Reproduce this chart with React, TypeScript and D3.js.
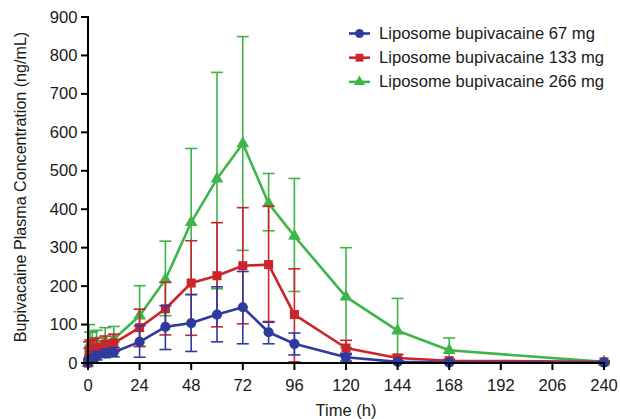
import React from "react";
import * as d3 from "d3";

const times = [0, 0.5, 1, 2, 4, 8, 12, 24, 36, 48, 60, 72, 84, 96, 120, 144, 168, 240];

const blueMean = [0, 5, 8, 12, 18, 25, 28, 55, 94, 104, 126, 145, 80, 50, 15, 3, 1, 1];
const blueLo = [0, 0, 2, 4, 8, 14, 16, 15, 35, 30, 55, 50, 50, 21, 5, 0, 0, 0];
const blueHi = [0, 12, 16, 22, 30, 36, 40, 97, 149, 178, 198, 238, 106, 78, 25, 6, 3, 2];

const redMean = [0, 30, 35, 38, 40, 48, 52, 92, 141, 208, 227, 253, 256, 126, 39, 13, 6, 3];
const redLo = [0, 10, 15, 18, 20, 28, 30, 43, 73, 72, 94, 102, 108, 3, 22, 5, 2, 1];
const redHi = [0, 55, 60, 60, 65, 70, 75, 140, 210, 318, 365, 404, 408, 245, 59, 22, 10, 5];

const greenMean = [0, 45, 50, 52, 55, 58, 62, 123, 217, 366, 479, 571, 415, 330, 172, 84, 33, 3];
const greenLo = [0, 5, 20, 25, 28, 30, 35, 43, 123, 178, 193, 293, 344, 186, 40, 5, 5, 1];
const greenHi = [0, 100, 80, 82, 85, 92, 95, 201, 317, 558, 756, 849, 493, 480, 300, 168, 65, 6];

const xTickValues = [0, 24, 48, 72, 96, 120, 144, 168, 192, 216, 240];
const xTickLabels = ["0", "24", "48", "72", "96", "120", "144", "168", "192", "206", "240"];
const yTickValues = [0, 100, 200, 300, 400, 500, 600, 700, 800, 900];

const seriesNames = [
  "Liposome bupivacaine 67 mg",
  "Liposome bupivacaine 133 mg",
  "Liposome bupivacaine 266 mg",
];

const FONT = "'Liberation Sans', Arial, Helvetica, sans-serif";

export default function App() {
  const x = d3.scaleLinear().domain([0, 240]).range([88, 604]);
  const y = d3.scaleLinear().domain([0, 900]).range([363, 17]);

  const series = [
    { name: seriesNames[2], color: "#3db549", mean: greenMean, lo: greenLo, hi: greenHi, symbol: d3.symbolTriangle, size: 70 },
    { name: seriesNames[1], color: "#c9252b", mean: redMean, lo: redLo, hi: redHi, symbol: d3.symbolSquare, size: 82 },
    { name: seriesNames[0], color: "#2e3b9c", mean: blueMean, lo: blueLo, hi: blueHi, symbol: d3.symbolCircle, size: 82 },
  ];

  const line = d3
    .line<number>()
    .x((_, i) => x(times[i]))
    .y((d) => y(d));

  const legendOrder = [series[2], series[1], series[0]];

  return (
    <svg
      width={620}
      height={419}
      style={{ position: "absolute", left: 0, top: 0, background: "#fff" }}
      fontFamily={FONT}
    >
      <rect x={0} y={0} width={620} height={419} fill="#fff" />
      {series.map((s) => (
        <g key={s.name}>
          {times.map((t, i) => {
            const cx = x(t);
            return (
              <g key={i} stroke={s.color} strokeWidth={1.6}>
                <line x1={cx} x2={cx} y1={y(s.lo[i])} y2={y(s.hi[i])} />
                <line x1={cx - 6} x2={cx + 6} y1={y(s.hi[i])} y2={y(s.hi[i])} />
                <line x1={cx - 6} x2={cx + 6} y1={y(s.lo[i])} y2={y(s.lo[i])} />
              </g>
            );
          })}
          <path d={line(s.mean) || ""} fill="none" stroke={s.color} strokeWidth={2.6} strokeLinejoin="round" />
          {times.map((t, i) => (
            <path
              key={"m" + i}
              d={d3.symbol().type(s.symbol).size(s.size)() || ""}
              transform={`translate(${x(t)},${y(s.mean[i])})`}
              fill={s.color}
            />
          ))}
        </g>
      ))}

      <g stroke="#000" strokeWidth={2}>
        <line x1={88} x2={88} y1={y(900) - 1} y2={y(0) + 1} />
        <line x1={87} x2={x(240) + 1} y1={y(0)} y2={y(0)} />
        {yTickValues.map((v) => (
          <line key={"yt" + v} x1={81} x2={88} y1={y(v)} y2={y(v)} />
        ))}
        {xTickValues.map((v) => (
          <line key={"xt" + v} x1={x(v)} x2={x(v)} y1={y(0)} y2={y(0) + 7} />
        ))}
      </g>
      <g fontSize={16.6} fill="#1a1a1a">
        {yTickValues.map((v) => (
          <text key={"yl" + v} x={77.5} y={y(v)} textAnchor="end" dominantBaseline="central">
            {v}
          </text>
        ))}
        {xTickValues.map((v, i) => (
          <text key={"xl" + v} x={x(v)} y={385} textAnchor="middle" dominantBaseline="central">
            {xTickLabels[i]}
          </text>
        ))}
      </g>
      <text x={346} y={410} fontSize={16.5} textAnchor="middle" dominantBaseline="central" fill="#1a1a1a">
        Time (h)
      </text>
      <text
        transform="translate(20,187) rotate(-90)"
        fontSize={16.1}
        textAnchor="middle"
        dominantBaseline="central"
        fill="#1a1a1a"
      >
        Bupivacaine Plasma Concentration (ng/mL)
      </text>

      {legendOrder.map((s, i) => {
        const ly = 33.5 + i * 24.2;
        return (
          <g key={"lg" + i}>
            <line x1={349} x2={370} y1={ly} y2={ly} stroke={s.color} strokeWidth={2.6} />
            <path
              d={d3.symbol().type(s.symbol).size(s.size * 0.75)() || ""}
              transform={`translate(359.5,${ly})`}
              fill={s.color}
            />
            <text x={379} y={ly} fontSize={16.6} dominantBaseline="central" fill="#1a1a1a">
              {s.name}
            </text>
          </g>
        );
      })}
    </svg>
  );
}
